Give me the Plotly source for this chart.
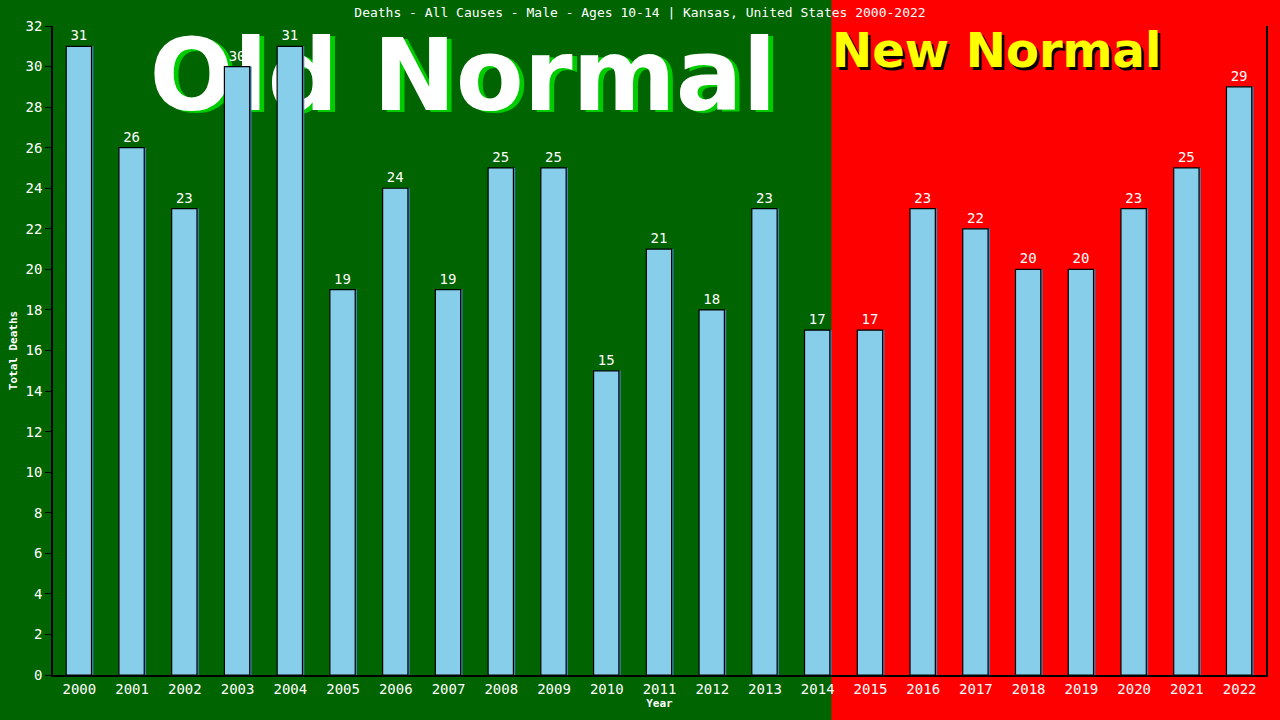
import plotly.graph_objects as go

# datos
anios = [str(a) for a in range(2000, 2023)]
muertes = [31, 26, 23, 30, 31, 19, 24, 19, 25, 25, 15, 21, 18, 23, 17,
           17, 23, 22, 20, 20, 23, 25, 29]
ticks_y = list(range(0, 33, 2))

titulo = "Deaths - All Causes - Male - Ages 10-14 | Kansas, United States 2000-2022"
fuente = "DejaVu Sans Mono"

fig = go.Figure()

# --- A. TEXTOS GRANDES (en el eje base, para que queden debajo de las barras) ---
def texto(x, y, t, tam, color):
    fig.add_trace(go.Scatter(
        x=[x], y=[y], mode="text", text=[f"<b>{t}</b>"],
        textposition="middle center", cliponaxis=False,
        textfont=dict(family="DejaVu Sans", size=tam, color=color),
        hoverinfo="skip", showlegend=False, xaxis="x", yaxis="y",
    ))

texto(0.342, 0.906, "Old Normal", 99, "#00CC00")   # sombra verde
texto(0.338, 0.909, "Old Normal", 99, "white")
texto(0.780, 0.951, "New Normal", 48, "black")     # sombra negra
texto(0.778, 0.955, "New Normal", 48, "#FFFF00")

# --- B. BARRAS (eje superpuesto) ---
fig.add_trace(go.Bar(
    x=anios, y=muertes, width=0.5, offset=-0.235,
    marker=dict(color="#4682B4", line=dict(width=0)),
    hoverinfo="skip", showlegend=False, xaxis="x2", yaxis="y2",
))
fig.add_trace(go.Bar(
    x=anios, y=muertes, width=0.48, offset=-0.25,
    marker=dict(color="#87CEEB", line=dict(color="black", width=1.2)),
    text=[str(v) for v in muertes], textposition="outside",
    textfont=dict(family=fuente, size=14, color="white"),
    cliponaxis=False, showlegend=False, xaxis="x2", yaxis="y2",
))

# --- C. FONDOS: verde (old normal) y rojo (new normal) ---
corte = (14 + 0.26 + 0.5) / len(anios)
fig.add_shape(type="rect", xref="paper", yref="paper", x0=-1, x1=corte, y0=-1, y1=2,
              fillcolor="#006400", line=dict(width=0), layer="below")
fig.add_shape(type="rect", xref="paper", yref="paper", x0=corte, x1=2, y0=-1, y1=2,
              fillcolor="#FF0000", line=dict(width=0), layer="below")

fig.update_layout(
    width=1280, height=720,
    margin=dict(l=51, r=14, t=26, b=43),
    paper_bgcolor="#006400", plot_bgcolor="rgba(0,0,0,0)",
    barmode="overlay",
    title=dict(text=titulo, x=0.5, xanchor="center", y=0.983, yanchor="middle",
               font=dict(family=fuente, size=13, color="white")),
    font=dict(family=fuente, color="white"),
    xaxis=dict(range=[0, 1], visible=False, fixedrange=True),
    yaxis=dict(range=[0, 1], visible=False, fixedrange=True),
    xaxis2=dict(
        type="category", overlaying="x", anchor="y2",
        showgrid=False, showline=True, linecolor="black", linewidth=1.5,
        ticks="", tickfont=dict(family=fuente, size=14, color="white"),
        title=dict(text="<b>Year</b>", font=dict(family=fuente, size=11, color="white"), standoff=4),
    ),
    yaxis2=dict(
        overlaying="y", anchor="x2", side="left",
        range=[0, 32], tickvals=ticks_y, showgrid=False, zeroline=False,
        showline=True, linecolor="black", linewidth=1.5, mirror=True,
        ticks="outside", ticklen=6, tickcolor="black",
        tickfont=dict(family=fuente, size=14, color="white"),
        title=dict(text="<b>Total Deaths</b>", font=dict(family=fuente, size=11, color="white"), standoff=6),
    ),
)

# quitar el margen del body para que la figura empiece en (0, 0)
fig.write_html("out.html", config={"displayModeBar": False},
               post_script="document.body.style.margin='0';")
